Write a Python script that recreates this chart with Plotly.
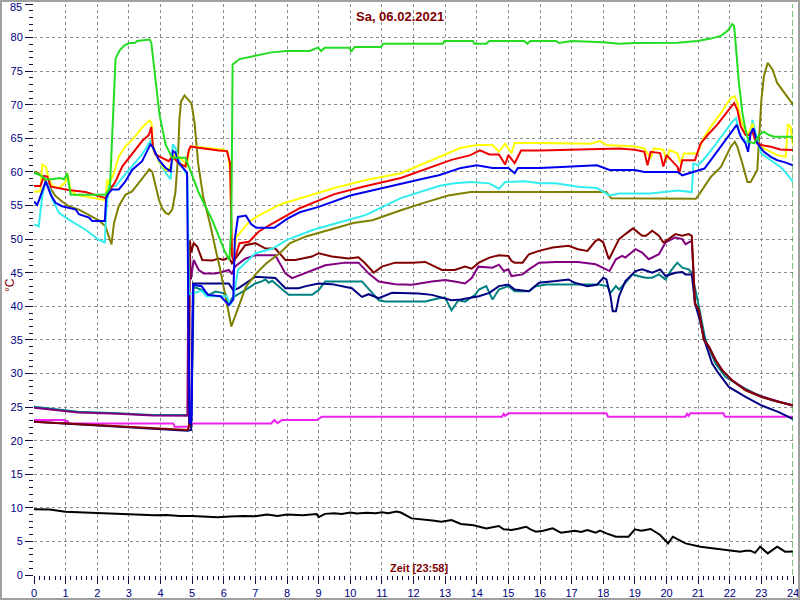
import plotly.graph_objects as go

# ---------------- data (hours, °C) ----------------
green_h = [0, 0.07, 0.2, 0.37, 0.58, 0.8, 0.95, 1.05, 1.16, 1.32, 1.8, 2.26, 2.40, 2.47, 2.53, 2.58, 2.71, 2.87, 3.03, 3.19, 3.26, 3.66, 3.71, 3.87, 3.97, 4.16, 4.37, 4.79, 5.21, 5.63, 6.05, 6.18, 6.24, 6.28, 6.5, 7.0, 7.5, 8.0, 8.4, 8.72, 8.98, 9.08, 9.19, 9.35, 9.98, 10.03, 10.14, 10.98, 11.04, 12.93, 12.98, 13.88, 13.93, 14.3, 14.4, 15.5, 15.6, 15.7, 16.5, 16.6, 17.0, 18.0, 18.5, 19.0, 19.5, 20.0, 20.35, 20.98, 21.4, 21.72, 21.93, 22.08, 22.14, 22.29, 22.4, 22.5, 22.6, 22.77, 22.93, 23.08, 23.24, 23.4, 24]
green_v = [59.8, 59.75, 59.5, 58.9, 58.9, 59.1, 58.9, 59.75, 56.6, 56.6, 56.6, 56.6, 57.6, 65.0, 73.0, 76.9, 78.1, 78.9, 79.2, 79.2, 79.5, 79.7, 79.2, 72.2, 68.5, 64.1, 62.1, 62.1, 56.9, 52.9, 48.0, 46.9, 52.0, 76.0, 76.8, 77.3, 77.8, 78.0, 78.0, 78.0, 78.5, 78.0, 78.5, 78.5, 78.5, 77.9, 78.6, 78.6, 79.1, 79.1, 79.5, 79.5, 79.1, 79.1, 79.5, 79.5, 79.1, 79.5, 79.5, 79.2, 79.5, 79.3, 79.1, 79.2, 79.2, 79.2, 79.25, 79.5, 79.85, 80.25, 81.0, 82.0, 81.7, 73.25, 68.75, 66.25, 64.5, 64.25, 65.5, 66.0, 65.5, 65.25, 65.25]

yellow_h = [0, 0.2, 0.26, 0.37, 0.47, 0.58, 0.79, 1.0, 1.05, 1.16, 1.32, 1.63, 1.95, 2.26, 2.32, 2.37, 2.53, 2.68, 2.89, 3.2, 3.43, 3.66, 3.72, 3.76, 3.84, 3.95, 4.16, 4.26, 4.37, 4.47, 4.58, 4.79, 4.84, 4.9, 5.0, 5.5, 6.0, 6.13, 6.2, 6.26, 6.3, 6.4, 6.6, 6.8, 7.1, 7.5, 7.8, 8.5, 9.5, 10.5, 11.6, 12.2, 12.8, 13.2, 13.5, 14.0, 14.5, 14.7, 14.9, 15.1, 15.2, 16.0, 17.0, 17.6, 17.9, 18.1, 19.0, 19.3, 19.5, 19.6, 19.9, 20.0, 20.1, 20.35, 20.45, 20.55, 20.98, 21.14, 21.4, 21.72, 22.03, 22.16, 22.24, 22.35, 22.5, 22.6, 22.72, 22.82, 22.98, 23.3, 23.5, 23.77, 23.84, 23.92, 24]
yellow_v = [57.1, 57.1, 61.1, 60.8, 58.9, 57.9, 57.6, 58.5, 59.85, 57.4, 56.6, 56.3, 56.1, 55.8, 58.9, 58.1, 59.85, 62.3, 63.8, 65.3, 66.7, 67.7, 67.2, 63.5, 62.8, 61.6, 60.3, 60.3, 61.6, 62.8, 62.3, 61.3, 60.8, 63.3, 63.8, 63.6, 63.3, 63.0, 60.0, 47.9, 47.5, 50.3, 51.5, 52.6, 53.5, 54.5, 55.2, 56.2, 57.6, 58.8, 59.8, 61.0, 62.2, 63.0, 63.6, 64.0, 64.0, 63.0, 64.2, 62.8, 64.3, 64.3, 64.3, 64.2, 64.6, 64.0, 63.8, 63.5, 62.0, 63.5, 63.3, 61.8, 63.3, 62.75, 61.25, 62.75, 62.75, 64.75, 66.75, 68.75, 71.0, 71.25, 70.25, 67.75, 66.0, 65.75, 67.25, 64.75, 63.75, 63.0, 62.5, 62.25, 67.0, 66.8, 64.0]

red_h = [0, 0.2, 0.32, 0.42, 0.53, 1.1, 1.63, 2.26, 2.37, 2.58, 2.79, 3.1, 3.42, 3.63, 3.71, 3.76, 3.84, 4.05, 4.26, 4.37, 4.58, 4.79, 4.9, 4.95, 5.2, 5.84, 6.1, 6.2, 6.26, 6.32, 6.5, 6.8, 7.1, 7.45, 8.4, 9.5, 10.4, 11.6, 12.5, 13.2, 13.8, 14.1, 14.4, 14.7, 14.9, 15.0, 15.2, 15.4, 16.0, 17.0, 17.9, 18.5, 19.0, 19.3, 19.4, 19.5, 19.8, 19.9, 20.0, 20.35, 20.4, 20.5, 20.9, 21.08, 21.3, 21.6, 21.93, 22.14, 22.24, 22.35, 22.5, 22.6, 22.72, 22.82, 23.0, 23.3, 23.6, 24]
red_v = [57.9, 57.9, 59.4, 59.3, 57.8, 57.3, 57.0, 56.1, 57.1, 58.6, 60.8, 62.6, 64.6, 65.5, 66.7, 63.8, 62.6, 62.1, 61.6, 62.3, 61.3, 60.8, 63.3, 63.8, 63.6, 63.2, 63.1, 61.3, 47.5, 46.6, 49.4, 49.6, 51.1, 52.1, 54.6, 56.7, 57.8, 59.1, 60.6, 61.8, 62.5, 63.2, 62.6, 62.6, 61.1, 62.5, 61.3, 63.2, 63.2, 63.3, 63.5, 63.5, 63.3, 63.0, 61.0, 63.0, 62.8, 60.8, 62.5, 60.75, 59.75, 61.75, 61.75, 64.25, 65.5, 67.0, 69.0, 70.25, 69.25, 66.75, 65.5, 65.5, 66.0, 64.5, 64.0, 63.75, 63.35, 63.25]

blue_h = [0, 0.1, 0.16, 0.32, 0.37, 0.53, 0.68, 0.89, 1.1, 1.32, 1.42, 1.74, 1.84, 2.24, 2.28, 2.37, 2.47, 2.68, 2.89, 3.1, 3.42, 3.68, 3.74, 3.95, 4.16, 4.32, 4.39, 4.47, 4.58, 4.84, 4.88, 4.92, 4.98, 5.03, 5.3, 5.5, 5.9, 6.16, 6.3, 6.35, 6.45, 6.7, 6.87, 7.03, 7.6, 7.75, 8.0, 8.4, 9.0, 10.0, 11.0, 11.6, 12.3, 12.8, 13.5, 14.0, 14.5, 15.0, 15.2, 15.3, 16.0, 17.0, 17.8, 18.2, 19.0, 19.3, 20.0, 20.35, 20.5, 20.98, 21.2, 21.4, 21.72, 22.03, 22.22, 22.35, 22.5, 22.58, 22.66, 22.75, 22.87, 23.08, 23.3, 23.5, 23.7, 24]
blue_v = [55.6, 55.1, 55.8, 58.1, 58.6, 56.6, 55.4, 54.9, 54.6, 54.4, 53.7, 53.2, 52.7, 52.7, 56.1, 56.9, 57.4, 57.4, 58.6, 60.3, 61.6, 64.1, 63.8, 61.8, 60.6, 60.1, 63.1, 62.9, 61.3, 59.9, 40.0, 22.5, 23.0, 43.2, 43.0, 41.7, 41.5, 40.2, 41.0, 50.0, 53.3, 53.5, 52.2, 51.7, 51.7, 52.2, 53.0, 54.0, 54.8, 56.5, 57.6, 58.3, 59.0, 59.5, 60.6, 61.0, 60.6, 60.6, 59.8, 60.6, 60.6, 60.8, 61.0, 60.3, 60.3, 60.0, 60.0, 60.0, 59.5, 60.25, 60.5, 61.75, 63.75, 65.75, 67.0, 65.25, 64.25, 63.0, 65.75, 66.5, 64.25, 63.0, 62.25, 61.75, 61.5, 61.0]

cyan_h = [0, 0.15, 0.26, 0.37, 0.47, 0.58, 0.79, 1.1, 1.63, 2.05, 2.24, 2.28, 2.37, 2.58, 2.79, 3.1, 3.42, 3.68, 3.74, 3.95, 4.16, 4.32, 4.39, 4.47, 4.58, 4.85, 4.9, 5.3, 5.45, 6.1, 6.2, 6.3, 6.45, 7.0, 7.55, 8.0, 8.83, 9.9, 10.5, 11.6, 12.8, 13.3, 13.8, 14.4, 14.7, 14.9, 15.5, 16.0, 16.5, 17.2, 17.8, 18.2, 18.5, 19.5, 20.0, 20.35, 20.8, 20.85, 21.0, 21.2, 21.5, 21.8, 22.08, 22.2, 22.3, 22.45, 22.6, 22.72, 22.82, 23.0, 23.3, 23.6, 23.8, 24]
cyan_v = [52.2, 51.9, 56.4, 58.6, 57.9, 55.9, 53.9, 52.9, 51.4, 49.9, 49.5, 53.9, 57.9, 57.9, 59.1, 60.8, 62.6, 64.6, 64.1, 61.6, 59.9, 58.9, 64.1, 63.6, 61.8, 59.4, 41.8, 42.3, 41.5, 41.5, 40.2, 41.0, 45.4, 47.9, 48.6, 49.9, 51.4, 52.8, 53.6, 56.1, 57.9, 58.3, 58.5, 58.3, 57.5, 58.5, 58.6, 58.3, 58.3, 57.8, 57.6, 56.5, 56.8, 56.8, 57.0, 57.25, 57.0, 61.25, 61.0, 62.0, 63.75, 65.75, 67.5, 68.0, 65.75, 64.75, 64.3, 67.75, 65.75, 62.75, 61.75, 60.75, 59.75, 58.5]

olive_h = [0, 0.1, 0.26, 0.47, 0.68, 0.89, 1.1, 1.42, 1.63, 1.84, 2.05, 2.26, 2.37, 2.45, 2.53, 2.68, 2.89, 3.1, 3.32, 3.53, 3.65, 3.74, 3.84, 3.95, 4.05, 4.16, 4.26, 4.37, 4.47, 4.55, 4.6, 4.65, 4.76, 4.85, 4.98, 5.08, 5.19, 5.35, 5.56, 5.77, 5.87, 6.24, 6.35, 6.7, 7.03, 7.35, 7.77, 8.1, 8.6, 9.35, 10.1, 10.7, 11.6, 12.4, 13.1, 13.8, 15.0, 16.0, 17.0, 18.1, 18.25, 20.0, 20.93, 21.08, 21.4, 21.72, 22.03, 22.16, 22.24, 22.4, 22.56, 22.66, 22.77, 22.87, 23.0, 23.08, 23.2, 23.35, 23.5, 23.7, 24]
olive_v = [59.9, 59.9, 59.4, 57.9, 56.4, 55.6, 54.9, 54.4, 53.9, 53.4, 52.8, 51.9, 50.4, 49.2, 52.4, 54.9, 56.6, 57.1, 58.4, 59.6, 60.4, 60.0, 57.9, 55.9, 54.6, 53.9, 53.7, 54.4, 56.9, 62.0, 68.0, 70.5, 71.4, 70.9, 70.2, 67.2, 61.3, 56.3, 52.4, 47.9, 45.9, 37.0, 38.4, 42.9, 44.9, 46.4, 47.9, 49.4, 50.4, 51.4, 52.4, 52.8, 54.3, 55.5, 56.5, 57.0, 57.0, 57.0, 57.0, 57.0, 56.1, 56.1, 56.0, 57.0, 59.25, 60.75, 63.75, 64.5, 63.75, 61.25, 58.5, 58.5, 59.5, 60.25, 70.75, 74.25, 76.25, 75.25, 73.25, 72.0, 70.0]

maroon_h = [0, 1.86, 3.43, 4.85, 4.9, 4.93, 4.97, 5.05, 5.16, 5.32, 5.63, 5.84, 6.0, 6.16, 6.26, 6.42, 6.68, 7.0, 7.32, 7.63, 7.95, 8.26, 8.79, 9.0, 9.42, 9.95, 10.26, 10.47, 10.74, 11.0, 11.42, 11.95, 12.37, 12.9, 13.3, 13.63, 13.84, 14.07, 14.4, 14.7, 15.0, 15.1, 15.2, 15.45, 15.65, 15.97, 16.4, 16.9, 17.2, 17.5, 17.76, 17.86, 18.0, 18.18, 18.28, 18.5, 18.7, 18.94, 19.02, 19.23, 19.35, 19.55, 19.76, 19.9, 20.07, 20.28, 20.5, 20.7, 20.8, 20.9, 21.02, 21.18, 21.34, 21.55, 21.76, 22.07, 22.5, 23.0, 23.55, 24]
maroon_v = [22.8, 22.3, 21.97, 21.6, 22.0, 49.8, 48.0, 49.4, 48.9, 46.9, 46.8, 47.1, 46.9, 47.3, 46.4, 47.4, 49.1, 49.4, 48.6, 48.6, 46.9, 46.9, 47.4, 47.9, 47.4, 47.1, 47.3, 46.4, 45.0, 45.9, 46.5, 46.5, 46.6, 45.4, 45.4, 45.9, 45.6, 46.5, 47.25, 47.6, 47.5, 46.75, 46.5, 46.5, 47.75, 48.25, 48.75, 49.0, 48.5, 48.25, 49.75, 50.0, 49.5, 47.0, 48.0, 50.0, 50.75, 51.6, 51.3, 50.5, 50.5, 51.25, 50.5, 49.5, 50.0, 50.75, 50.5, 50.75, 50.5, 40.5, 39.5, 35.0, 34.0, 32.0, 30.5, 29.0, 27.5, 26.5, 25.75, 25.25]

purple_h = [0, 1.39, 2.65, 3.75, 4.85, 4.88, 4.92, 4.96, 5.05, 5.21, 5.37, 5.74, 5.95, 6.16, 6.26, 6.35, 6.68, 7.0, 7.63, 7.95, 8.16, 8.79, 9.21, 9.84, 10.26, 10.58, 10.9, 11.42, 11.95, 12.58, 13.0, 13.3, 13.63, 13.84, 14.05, 14.5, 14.7, 14.86, 15.0, 15.1, 15.45, 15.65, 15.97, 16.5, 17.2, 17.76, 18.07, 18.2, 18.4, 18.6, 18.7, 19.02, 19.23, 19.44, 19.76, 19.97, 20.28, 20.5, 20.6, 20.8, 20.9, 21.02, 21.18, 21.34, 21.55, 21.76, 22.07, 22.5, 23.0, 23.55, 24]
purple_v = [24.9, 24.2, 24.0, 23.75, 23.7, 43.9, 49.8, 44.0, 46.9, 45.4, 44.9, 44.9, 45.1, 45.4, 44.8, 45.9, 47.1, 47.6, 47.6, 44.9, 44.2, 45.4, 46.1, 46.5, 46.5, 44.9, 43.7, 43.3, 43.2, 43.7, 43.9, 43.7, 43.4, 44.2, 45.9, 45.75, 46.2, 45.25, 45.5, 44.5, 44.75, 45.5, 46.5, 46.6, 46.6, 46.25, 45.5, 45.25, 47.0, 47.5, 47.25, 48.5, 48.0, 47.0, 47.75, 49.5, 50.25, 50.0, 49.25, 49.75, 40.3, 39.5, 35.0, 34.0, 32.0, 30.5, 29.0, 27.6, 26.6, 25.8, 25.2]

navy_h = [0, 1.86, 3.43, 4.85, 4.97, 5.03, 5.32, 6.16, 6.3, 6.47, 7.0, 7.63, 7.95, 8.37, 8.6, 9.0, 9.42, 10.05, 10.37, 10.58, 10.9, 11.32, 12.16, 12.58, 13.2, 13.5, 13.84, 14.07, 14.4, 14.7, 15.0, 15.2, 15.65, 15.97, 16.5, 16.9, 17.1, 17.5, 17.8, 18.0, 18.1, 18.23, 18.3, 18.4, 18.5, 18.7, 19.02, 19.23, 19.55, 19.8, 19.97, 20.28, 20.5, 20.6, 20.8, 20.9, 21.02, 21.23, 21.44, 21.65, 21.97, 22.5, 23.0, 23.55, 24]
navy_v = [22.8, 22.3, 21.97, 21.48, 21.6, 43.4, 43.4, 43.4, 42.4, 42.7, 44.4, 44.2, 42.7, 42.7, 43.0, 43.4, 43.3, 42.7, 41.4, 41.8, 41.2, 42.0, 41.9, 41.7, 40.9, 41.0, 41.3, 41.5, 42.0, 43.0, 43.25, 42.5, 42.25, 43.5, 43.75, 44.0, 43.5, 43.0, 43.2, 44.25, 44.0, 41.5, 39.25, 39.25, 41.5, 43.75, 45.25, 45.5, 45.0, 45.5, 44.5, 45.0, 45.1, 44.75, 44.75, 40.5, 38.5, 34.5, 31.5, 30.0, 28.0, 26.5, 25.25, 24.25, 23.2]

teal_h = [0, 1.39, 2.65, 3.75, 4.98, 5.05, 5.32, 5.53, 5.74, 6.05, 6.16, 6.26, 6.42, 6.68, 7.0, 7.2, 7.32, 7.42, 7.53, 7.74, 8.05, 8.79, 9.0, 9.21, 10.37, 10.9, 11.1, 12.37, 12.8, 13.0, 13.2, 13.42, 13.63, 13.95, 14.07, 14.3, 14.5, 14.7, 15.0, 15.2, 15.65, 15.86, 16.2, 17.0, 17.86, 18.13, 18.23, 18.4, 18.5, 18.7, 18.92, 19.1, 19.33, 19.55, 19.76, 19.97, 20.13, 20.34, 20.5, 20.7, 20.8, 21.02, 21.23, 21.55, 21.86, 22.28, 22.8, 23.34, 24]
teal_v = [25.05, 24.3, 24.06, 23.8, 23.8, 42.9, 42.4, 41.7, 42.2, 41.9, 40.2, 41.2, 41.7, 42.4, 43.4, 43.7, 44.0, 43.5, 43.8, 42.9, 41.7, 41.7, 42.4, 43.7, 43.7, 40.9, 40.7, 40.7, 41.2, 41.3, 39.4, 40.9, 40.7, 41.7, 42.5, 43.0, 41.0, 42.5, 43.0, 42.25, 42.25, 43.0, 43.25, 43.25, 43.25, 43.0, 42.0, 43.0, 42.5, 43.5, 44.75, 44.5, 44.25, 44.25, 44.75, 44.0, 45.25, 46.5, 45.75, 45.5, 45.0, 40.0, 35.0, 31.5, 29.5, 28.25, 27.0, 26.0, 25.25]

magenta_h = [0, 0.95, 1.0, 1.05, 1.1, 4.4, 4.45, 4.85, 5.0, 7.5, 7.6, 7.7, 7.85, 8.95, 9.1, 14.8, 14.85, 14.9, 15.0, 18.1, 18.15, 20.6, 20.65, 20.7, 20.75, 21.8, 21.85, 24]
magenta_v = [23.07, 23.07, 22.6, 23.0, 22.57, 22.57, 22.07, 22.07, 22.57, 22.57, 23.07, 22.6, 23.07, 23.07, 23.56, 23.56, 24.0, 23.7, 24.06, 24.06, 23.56, 23.56, 24.0, 23.7, 24.06, 24.06, 23.56, 23.56]

black_h = [0, 0.5, 0.99, 1.4, 1.86, 2.2, 2.6, 3.0, 3.43, 3.8, 4.2, 4.6, 5.0, 5.3, 5.8, 6.2, 6.6, 7.0, 7.37, 7.7, 8.0, 8.5, 8.94, 9.0, 9.2, 9.5, 9.73, 10.0, 10.2, 10.52, 10.8, 11.0, 11.2, 11.46, 11.6, 11.94, 12.3, 12.6, 12.88, 13.2, 13.5, 13.9, 14.3, 14.5, 14.7, 14.85, 15.1, 15.3, 15.56, 15.7, 15.87, 16.1, 16.4, 16.66, 16.9, 17.1, 17.3, 17.5, 17.76, 17.9, 18.1, 18.4, 18.8, 19.0, 19.2, 19.5, 19.8, 20.05, 20.2, 20.4, 20.6, 21.07, 21.4, 21.86, 22.33, 22.5, 22.65, 22.8, 22.96, 23.2, 23.5, 23.75, 24]
black_v = [9.77, 9.75, 9.42, 9.35, 9.18, 9.2, 9.05, 9.0, 8.93, 8.9, 8.95, 8.8, 8.78, 8.7, 8.58, 8.7, 8.8, 8.75, 9.0, 8.8, 9.0, 8.9, 9.08, 8.6, 9.1, 9.2, 9.08, 9.3, 9.15, 9.28, 9.2, 9.35, 9.2, 9.45, 9.3, 8.43, 8.3, 8.1, 7.94, 8.18, 7.59, 7.4, 6.94, 7.1, 7.29, 6.8, 6.7, 6.9, 7.19, 6.8, 6.45, 6.6, 6.94, 6.3, 6.5, 6.6, 6.4, 6.7, 6.3, 6.6, 6.2, 5.7, 5.7, 6.8, 6.6, 6.85, 5.95, 4.71, 5.7, 5.2, 4.71, 4.22, 4.0, 3.72, 3.47, 3.6, 3.62, 3.3, 4.22, 3.22, 4.22, 3.47, 3.5]

x_ticks = list(range(0, 25))
y_ticks = list(range(0, 90, 5))
title_text = "Sa, 06.02.2021"
xlabel_text = "Zeit [23:58]"
ylabel_text = "°C"

# ---------------- figure ----------------
series = [
    (black_h, black_v, "#000000"),
    (magenta_h, magenta_v, "#ee22ee"),
    (teal_h, teal_v, "#008080"),
    (navy_h, navy_v, "#000080"),
    (purple_h, purple_v, "#800080"),
    (maroon_h, maroon_v, "#800000"),
    (olive_h, olive_v, "#808000"),
    (cyan_h, cyan_v, "#33eeee"),
    (yellow_h, yellow_v, "#ffff00"),
    (red_h, red_v, "#ee0000"),
    (blue_h, blue_v, "#0000ee"),
    (green_h, green_v, "#22dd22"),
]

fig = go.Figure()
for hx, vy, col in series:
    fig.add_trace(go.Scatter(x=hx, y=vy, mode="lines",
                             line=dict(color=col, width=2), hoverinfo="skip"))

L, R, T, B = 34, 7, 4, 25
W, H = 800, 600
pw, ph = W - L - R, H - T - B

FONT = "Liberation Sans, Arial, sans-serif"
tickfont = dict(family=FONT, size=11, color="#000080")
# top label (85) is placed as an annotation a touch lower so it is not clipped
y_ticktext = [str(v) if v != y_ticks[-1] else "" for v in y_ticks]

fig.update_layout(
    width=W, height=H,
    margin=dict(l=L, r=R, t=T, b=B, pad=0, autoexpand=False),
    paper_bgcolor="white", plot_bgcolor="white",
    showlegend=False,
    xaxis=dict(range=[0, 24], tickvals=x_ticks, ticktext=[str(v) for v in x_ticks],
               automargin=False, ticklabeloverflow="allow",
               ticks="outside", ticklen=8, tickwidth=1, tickcolor="#101040",
               tickfont=tickfont, showgrid=True, gridcolor="#8c8c8c", gridwidth=1,
               griddash="3px,3px", zeroline=False, showline=False,
               minor=dict(ticks="outside", ticklen=4, tickwidth=1, tickcolor="#101040",
                          tick0=0, dtick=1/6, showgrid=False)),
    yaxis=dict(range=[0, 85], tickvals=y_ticks, ticktext=y_ticktext,
               automargin=False, ticklabeloverflow="allow",
               ticks="outside", ticklen=8, tickwidth=1, tickcolor="#101040",
               tickfont=tickfont, showgrid=True, gridcolor="#8c8c8c", gridwidth=1,
               griddash="3px,3px", zeroline=False, showline=False,
               minor=dict(ticks="outside", ticklen=4, tickwidth=1, tickcolor="#101040",
                          tick0=0, dtick=1, showgrid=False)),
)

def px2paper_x(px):
    return (px - L) / pw

def py2paper_y(py):
    return (H - B - py) / ph

# frame around whole image
fig.add_shape(type="rect", xref="paper", yref="paper",
              x0=px2paper_x(1), x1=px2paper_x(799), y0=py2paper_y(599), y1=py2paper_y(1),
              line=dict(color="#a0a0a0", width=2), fillcolor="rgba(0,0,0,0)", layer="above")
# dashed green marker at current time
fig.add_shape(type="line", xref="x", yref="paper", x0=24, x1=24, y0=0, y1=1,
              line=dict(color="#008000", width=1, dash="6px,3px"))

fig.add_annotation(text=str(y_ticks[-1]), xref="paper", yref="paper",
                   x=px2paper_x(24), y=py2paper_y(7), xanchor="right", yanchor="middle",
                   showarrow=False, font=tickfont)
fig.add_annotation(text="<b>" + title_text + "</b>", xref="paper", yref="paper",
                   x=px2paper_x(400), y=py2paper_y(17), xanchor="center", yanchor="middle",
                   showarrow=False, font=dict(family=FONT, size=13, color="#800000"))
fig.add_annotation(text="<b>" + xlabel_text + "</b>", xref="paper", yref="paper",
                   x=px2paper_x(419), y=py2paper_y(568), xanchor="center", yanchor="middle",
                   showarrow=False, font=dict(family=FONT, size=11, color="#800000"))
fig.add_annotation(text=ylabel_text, xref="paper", yref="paper",
                   x=px2paper_x(10), y=py2paper_y(285), xanchor="center", yanchor="middle",
                   showarrow=False, textangle=-90,
                   font=dict(family=FONT, size=12, color="#800000"))

fig.write_html("out.html", config={"displayModeBar": False},
               post_script="document.body.style.margin='0';document.body.style.padding='0';document.body.style.overflow='hidden';")
